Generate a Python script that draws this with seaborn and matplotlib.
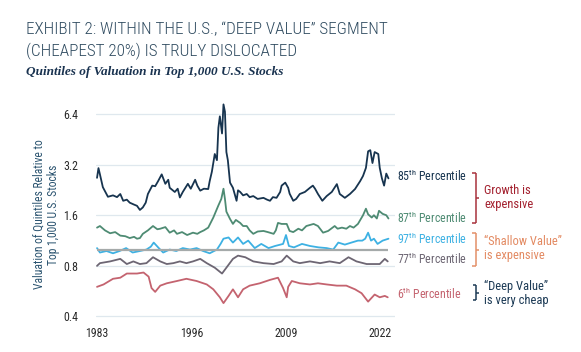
import matplotlib
matplotlib.use("Agg")
import matplotlib.pyplot as plt
from matplotlib.lines import Line2D
import seaborn as sns
import pandas as pd

# ---------------- data ----------------
p85_years = [1983.0, 1983.2, 1983.4, 1983.8, 1984.5, 1985.2, 1985.75, 1986.2, 1986.6, 1987.1,
             1987.5, 1988.1, 1988.5, 1988.9, 1989.3, 1989.7, 1990.0, 1990.6, 1991.0, 1991.4,
             1991.9, 1992.4, 1992.8, 1993.0, 1993.7, 1994.1, 1994.4, 1994.8, 1995.5, 1995.9,
             1996.5, 1996.8, 1997.2, 1997.7, 1998.3, 1998.5, 1998.8, 1999.2, 1999.5, 1999.7,
             1999.9, 2000.2, 2000.4, 2000.6, 2000.8, 2001.0, 2001.3, 2001.7, 2002.2, 2002.4,
             2002.7, 2003.1, 2003.6, 2004.0, 2004.5, 2005.1, 2005.9, 2006.4, 2006.8, 2007.2,
             2007.7, 2008.2, 2008.4, 2008.9, 2009.3, 2009.5, 2010.0, 2010.4, 2010.9, 2011.6,
             2012.3, 2012.7, 2013.0, 2013.4, 2014.0, 2014.6, 2015.3, 2016.0, 2016.4, 2017.1,
             2017.8, 2018.5, 2019.2, 2019.6, 2020.0, 2020.3, 2020.6, 2020.9, 2021.2, 2021.7,
             2021.9, 2022.2, 2022.5, 2022.8, 2023.1]
p85_vals = [2.67, 3.05, 2.80, 2.35, 2.06, 2.10, 2.05, 2.14, 1.95, 1.98,
            1.90, 1.85, 1.82, 1.72, 1.78, 1.90, 2.14, 2.40, 2.38, 2.55,
            2.80, 2.46, 2.60, 2.33, 2.20, 2.30, 2.04, 2.20, 2.46, 2.30,
            2.60, 2.40, 2.24, 2.30, 2.29, 2.55, 2.90, 3.70, 3.40, 5.30,
            6.20, 4.90, 7.30, 6.60, 3.80, 3.40, 2.50, 2.33, 1.95, 2.25,
            2.20, 2.10, 2.14, 2.05, 2.08, 2.00, 2.03, 1.98, 1.95, 2.05,
            2.03, 2.20, 2.40, 2.50, 2.33, 2.15, 1.95, 2.00, 2.14, 2.20,
            2.33, 2.40, 2.30, 2.14, 1.95, 2.08, 2.20, 2.45, 2.14, 2.03,
            2.14, 2.29, 2.55, 2.74, 3.06, 3.84, 3.90, 3.27, 3.80, 3.70,
            3.06, 2.65, 2.40, 2.83, 2.65]

p87_years = [1983.0, 1983.4, 1984.1, 1984.8, 1985.5, 1986.2, 1986.9, 1987.5, 1988.1, 1988.5,
             1988.9, 1989.3, 1990.0, 1990.7, 1991.3, 1991.7, 1992.4, 1993.0, 1993.6, 1994.0,
             1994.7, 1995.4, 1996.2, 1996.8, 1997.2, 1997.7, 1998.3, 1999.0, 1999.7, 2000.1,
             2000.4, 2000.6, 2000.8, 2001.3, 2001.7, 2002.1, 2002.7, 2003.1, 2003.6, 2004.0,
             2004.5, 2005.1, 2005.9, 2006.5, 2007.3, 2007.6, 2007.9, 2008.4, 2009.1, 2009.5,
             2010.0, 2010.7, 2011.2, 2011.8, 2012.3, 2012.8, 2013.4, 2014.1, 2014.8, 2015.7,
             2016.1, 2016.7, 2017.3, 2017.8, 2018.3, 2018.9, 2019.6, 2020.0, 2020.3, 2020.8,
             2021.1, 2021.5, 2021.8, 2022.3, 2022.8, 2023.1]
p87_vals = [1.35, 1.38, 1.30, 1.25, 1.27, 1.21, 1.20, 1.17, 1.19, 1.16,
            1.17, 1.24, 1.30, 1.38, 1.32, 1.33, 1.36, 1.26, 1.30, 1.24,
            1.27, 1.22, 1.26, 1.24, 1.27, 1.30, 1.35, 1.55, 1.83, 2.00,
            2.30, 2.00, 1.68, 1.52, 1.42, 1.50, 1.44, 1.38, 1.38, 1.30,
            1.24, 1.28, 1.29, 1.27, 1.24, 1.30, 1.44, 1.42, 1.42, 1.29,
            1.27, 1.33, 1.30, 1.38, 1.40, 1.42, 1.38, 1.26, 1.29, 1.38,
            1.33, 1.35, 1.33, 1.38, 1.35, 1.42, 1.60, 1.75, 1.62, 1.55,
            1.60, 1.53, 1.70, 1.63, 1.60, 1.53]

p97_years = [1983.0, 1983.4, 1984.3, 1985.2, 1986.1, 1987.0, 1987.9, 1988.9, 1989.8, 1990.4,
             1990.8, 1991.5, 1992.1, 1993.0, 1993.9, 1994.8, 1995.8, 1996.7, 1997.6, 1998.5,
             1999.5, 2000.0, 2000.4, 2001.1, 2001.7, 2002.4, 2003.1, 2003.8, 2004.7, 2005.6,
             2006.6, 2007.5, 2008.6, 2009.0, 2009.4, 2010.1, 2011.2, 2012.3, 2013.5, 2014.6,
             2015.5, 2016.2, 2017.1, 2018.0, 2018.9, 2019.5, 2019.9, 2020.3, 2020.7, 2021.1,
             2021.6, 2022.3, 2023.1]
p97_vals = [1.02, 0.96, 0.98, 0.95, 0.98, 1.02, 0.96, 0.98, 1.00, 1.04,
            1.10, 1.02, 0.96, 1.00, 0.98, 1.02, 1.00, 1.02, 0.98, 0.95,
            1.00, 1.08, 1.16, 1.18, 1.10, 1.18, 1.08, 1.13, 1.02, 1.08,
            1.02, 1.05, 1.08, 1.22, 1.05, 1.03, 1.08, 1.05, 1.03, 1.02,
            1.00, 1.10, 1.07, 1.10, 1.13, 1.13, 1.16, 1.26, 1.13, 1.16,
            1.08, 1.13, 1.16]

p77_years = [1983.0, 1983.4, 1984.8, 1986.2, 1987.1, 1988.0, 1988.9, 1989.8, 1990.7, 1991.7,
             1992.6, 1993.5, 1994.4, 1995.3, 1996.2, 1997.2, 1998.1, 1999.2, 2000.2, 2000.8,
             2001.7, 2002.4, 2003.4, 2004.5, 2005.9, 2007.3, 2008.4, 2009.1, 2010.0, 2010.9,
             2012.3, 2013.7, 2015.0, 2016.4, 2017.6, 2018.7, 2020.1, 2021.2, 2021.9, 2022.6,
             2023.0]
p77_vals = [0.80, 0.83, 0.85, 0.88, 0.82, 0.85, 0.82, 0.83, 0.90, 0.85,
            0.82, 0.83, 0.85, 0.83, 0.85, 0.88, 0.83, 0.78, 0.72, 0.78,
            0.88, 0.92, 0.90, 0.85, 0.83, 0.82, 0.85, 0.92, 0.85, 0.83,
            0.85, 0.83, 0.85, 0.83, 0.90, 0.85, 0.82, 0.82, 0.82, 0.88,
            0.85]

p6_years = [1983.0, 1983.9, 1985.2, 1986.2, 1987.1, 1988.5, 1989.4, 1990.1, 1990.5, 1991.0,
            1991.7, 1992.6, 1994.0, 1995.3, 1996.7, 1998.1, 1999.0, 1999.9, 2000.4, 2001.1,
            2001.7, 2002.4, 2003.1, 2004.0, 2005.4, 2006.8, 2007.9, 2008.6, 2009.1, 2009.3,
            2009.8, 2010.9, 2012.3, 2013.4, 2014.6, 2016.0, 2017.3, 2018.5, 2019.4, 2020.3,
            2021.2, 2021.9, 2022.6, 2023.0]
p6_vals = [0.60, 0.62, 0.67, 0.68, 0.72, 0.72, 0.73, 0.69, 0.59, 0.56,
           0.61, 0.63, 0.65, 0.67, 0.65, 0.62, 0.58, 0.52, 0.48, 0.53,
           0.58, 0.52, 0.58, 0.61, 0.63, 0.66, 0.68, 0.59, 0.52, 0.60,
           0.65, 0.63, 0.62, 0.63, 0.62, 0.61, 0.61, 0.58, 0.55, 0.49,
           0.54, 0.52, 0.53, 0.52]

series_names = ["85th", "87th", "97th", "77th", "6th"]
y_ticks = [0.4, 0.8, 1.6, 3.2, 6.4]
y_ticklabels = ["0.4", "0.8", "1.6", "3.2", "6.4"]
x_ticks = [1983, 1996, 2009, 2022]

# ---------------- style ----------------
sns.set_theme(style="white")
SANS = ["Roboto Condensed", "Roboto", "DejaVu Sans"]
plt.rcParams["font.family"] = SANS
plt.rcParams["mathtext.fontset"] = "custom"
plt.rcParams["mathtext.rm"] = "Roboto Condensed"
plt.rcParams["mathtext.it"] = "Roboto Condensed:italic"
plt.rcParams["mathtext.bf"] = "Roboto Condensed:bold"

colors = {"85th": "#17344f", "87th": "#4e8b73", "97th": "#3db1e3",
          "77th": "#6d6673", "6th": "#c4636f"}

frames = []
for name, yrs, vals in [("85th", p85_years, p85_vals), ("87th", p87_years, p87_vals),
                        ("97th", p97_years, p97_vals), ("77th", p77_years, p77_vals),
                        ("6th", p6_years, p6_vals)]:
    frames.append(pd.DataFrame({"year": yrs, "value": vals, "series": name}))
df = pd.concat(frames, ignore_index=True)

W, H = 581, 352
fig = plt.figure(figsize=(W / 100, H / 100), dpi=100)
fig.patch.set_facecolor("white")

def fx(px):
    return px / W

def fy(py):
    return 1 - py / H

ax_left, ax_right, ax_top, ax_bot = 96.3, 395.0, 97.7, 318.3
ax = fig.add_axes([fx(ax_left), fy(ax_bot), (ax_right - ax_left) / W, (ax_bot - ax_top) / H])

ax.set_yscale("log")
ax.set_xlim(1982.9, 2024.0)
ax.set_ylim(0.39, 8.0)

for t in y_ticks:
    ax.axhline(t, color="#dfe8ee", lw=0.9, zorder=0)

sns.lineplot(data=df, x="year", y="value", hue="series", hue_order=series_names,
             palette=colors, estimator=None, sort=False, lw=1.3, legend=False, ax=ax, zorder=3)
ax.plot([1983.0, 2023.1], [1.0, 1.0], color="#a5aaaa", lw=1.6, zorder=4, solid_capstyle="butt")

ax.set_yticks(y_ticks)
ax.set_yticklabels(y_ticklabels)
ax.minorticks_off()
ax.set_xticks(x_ticks)
ax.set_xticklabels([str(x) for x in x_ticks])
ax.tick_params(axis="y", length=0, pad=13, labelsize=8.6, labelcolor="#2a2a2a")
ax.tick_params(axis="x", length=0, pad=6, labelsize=8.6, labelcolor="#2a2a2a")
for s in ax.spines.values():
    s.set_visible(False)
ax.set_xlabel("")
ax.set_ylabel("")
ax.patch.set_alpha(0)

fig.text(fx(46.5), fy(214.5), "Valuation of Quintiles Relative to\nTop 1,000 U.S. Stocks",
         rotation=90, ha="center", va="center", fontsize=8.4, color="#2b5470",
         linespacing=1.2, multialignment="center")

# titles
fig.text(fx(26), fy(34.3), "EXHIBIT 2: WITHIN THE U.S., \u201cDEEP VALUE\u201d SEGMENT",
         ha="left", va="baseline", fontsize=12.3, color="#2f4b60", weight="light")
fig.text(fx(26), fy(56.5), "(CHEAPEST 20%) IS TRULY DISLOCATED",
         ha="left", va="baseline", fontsize=12.3, color="#2f4b60", weight="light")
fig.text(fx(25.7), fy(75.5), "Quintiles of Valuation in Top 1,000 U.S. Stocks",
         ha="left", va="baseline", fontsize=9.5, color="#1a3350",
         family=["Liberation Serif", "DejaVu Serif"], weight="bold", style="italic")

# percentile labels
lab = [("85", "#17344f", 176), ("87", "#4e8b73", 218.3), ("97", "#3db1e3", 239),
       ("77", "#6d6673", 259.3), ("6", "#c4636f", 294.3)]
for num, col, yc in lab:
    fig.text(fx(396.7), fy(yc), num + r"$^{\mathregular{th}}$ Percentile", ha="left", va="center",
             fontsize=8.6, color=col)

def bracket(ytop, ybot, col, xv=475.7, xl=472.3, xn=479.0):
    ym = (ytop + ybot) / 2
    segs = [([xl, xv], [ytop, ytop]), ([xv, xv], [ytop, ybot]), ([xl, xv], [ybot, ybot]),
            ([xv, xn], [ym, ym])]
    for xs, ys in segs:
        fig.add_artist(Line2D([fx(v) for v in xs], [fy(v) for v in ys], color=col, lw=1.1,
                              transform=fig.transFigure, solid_capstyle="butt"))

bracket(172.7, 223.3, "#a8323c")
bracket(233.3, 265.7, "#e39068")
bracket(285.0, 300.0, "#1c3a55", xl=473.3, xn=478.5)

fig.text(fx(484), fy(197.5), "Growth is\nexpensive", ha="left", va="center", fontsize=9.0,
         color="#a3202e", linespacing=1.12)
fig.text(fx(484), fy(248.3), "\u201cShallow Value\u201d\nis expensive", ha="left", va="center",
         fontsize=9.0, color="#e38a62", linespacing=1.12)
fig.text(fx(484), fy(293.3), "\u201cDeep Value\u201d\nis very cheap", ha="left", va="center",
         fontsize=9.0, color="#1c3a55", linespacing=1.12)

fig.savefig("out.png", dpi=100, facecolor="white")
